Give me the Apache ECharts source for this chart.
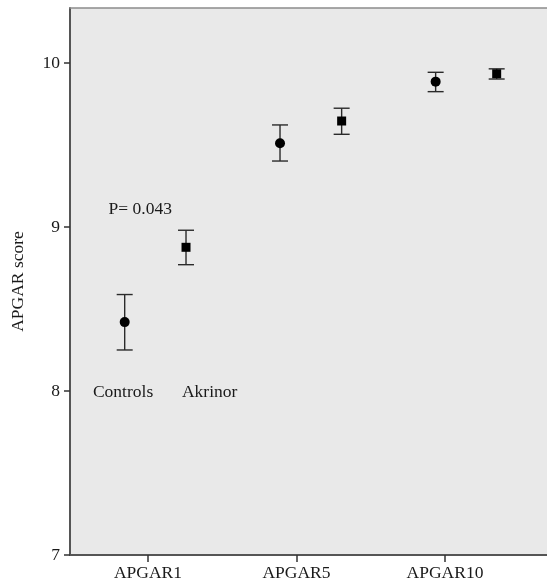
<!DOCTYPE html>
<html>
<head>
<meta charset="utf-8">
<script src="https://cdn.jsdelivr.net/npm/echarts@6/dist/echarts.min.js"></script>
<style>html,body{margin:0;padding:0;background:#fff}#c{width:547px;height:584px}</style>
</head>
<body>
<div id="c"></div>
<script>
var categories = ['APGAR1', 'APGAR5', 'APGAR10'];
var categoryPos = [1, 2, 3];
var controlsX = [0.843, 1.889, 2.937];
var akrinorX = [1.256, 2.304, 3.348];
var controlsMean = [8.42, 9.51, 9.886];
var controlsLow = [8.25, 9.402, 9.825];
var controlsHigh = [8.588, 9.622, 9.943];
var akrinorMean = [8.876, 9.646, 9.934];
var akrinorLow = [8.77, 9.565, 9.902];
var akrinorHigh = [8.98, 9.724, 9.964];
var annotations = [
  {text: 'P= 0.043', x: 0.948, y: 9.104},
  {text: 'Controls', x: 0.832, y: 7.994},
  {text: 'Akrinor', x: 1.415, y: 7.994}
];
var yTicks = [7, 8, 9, 10];

var FONT = 'Liberation Serif';
var FS = 17.5;
var XMIN = 1 - 78 / 148.5;
var XMAX = XMIN + 477 / 148.5;

function errData(xs, lo, hi) {
  return xs.map(function (x, i) { return [x, lo[i], hi[i]]; });
}
function renderErr(params, api) {
  var x = api.value(0);
  var p1 = api.coord([x, api.value(1)]);
  var p2 = api.coord([x, api.value(2)]);
  var hw = 8;
  var st = {stroke: '#2a2a2a', lineWidth: 1.4};
  return {
    type: 'group',
    children: [
      {type: 'line', shape: {x1: p1[0], y1: p1[1], x2: p2[0], y2: p2[1]}, style: st},
      {type: 'line', shape: {x1: p1[0] - hw, y1: p1[1], x2: p1[0] + hw, y2: p1[1]}, style: st},
      {type: 'line', shape: {x1: p2[0] - hw, y1: p2[1], x2: p2[0] + hw, y2: p2[1]}, style: st}
    ]
  };
}

var chart = echarts.init(document.getElementById('c'));
chart.setOption({
  animation: false,
  grid: {
    left: 70, right: 0, top: 8, bottom: 29,
    show: true, backgroundColor: '#e9e9e9', borderWidth: 0
  },
  xAxis: [{
    type: 'value',
    min: XMIN, max: XMAX,
    splitLine: {show: false},
    axisLine: {show: true, onZero: false, lineStyle: {color: '#555', width: 2}},
    axisTick: {show: true, customValues: categoryPos, length: 7, lineStyle: {color: '#333', width: 1.5}},
    axisLabel: {
      customValues: categoryPos,
      margin: 9,
      fontFamily: FONT, fontSize: FS, color: '#1a1a1a',
      formatter: function (v) { return categories[Math.round(v) - 1] || ''; }
    }
  }, {
    type: 'value', position: 'top',
    min: XMIN, max: XMAX,
    splitLine: {show: false},
    axisLine: {show: true, onZero: false, lineStyle: {color: '#8c8c8c', width: 1.5}},
    axisTick: {show: false},
    axisLabel: {show: false}
  }],
  yAxis: {
    type: 'value',
    min: 7, max: 10.335, interval: 1,
    name: 'APGAR score', nameLocation: 'middle', nameGap: 43, nameRotate: 90,
    nameTextStyle: {fontFamily: FONT, fontSize: FS, color: '#1a1a1a'},
    splitLine: {show: false},
    axisLine: {show: true, lineStyle: {color: '#555', width: 2}},
    axisTick: {show: true, customValues: yTicks, length: 6, lineStyle: {color: '#333', width: 1.5}},
    axisLabel: {
      customValues: yTicks,
      margin: 10, fontFamily: FONT, fontSize: FS, color: '#1a1a1a'
    }
  },
  series: [
    {type: 'custom', renderItem: renderErr, data: errData(controlsX, controlsLow, controlsHigh), z: 2},
    {type: 'custom', renderItem: renderErr, data: errData(akrinorX, akrinorLow, akrinorHigh), z: 2},
    {
      type: 'scatter', symbol: 'circle', symbolSize: 10, z: 3,
      itemStyle: {color: '#000', opacity: 1},
      data: controlsX.map(function (x, i) { return [x, controlsMean[i]]; })
    },
    {
      type: 'scatter', symbol: 'rect', symbolSize: 9, z: 3,
      itemStyle: {color: '#000', opacity: 1},
      data: akrinorX.map(function (x, i) { return [x, akrinorMean[i]]; })
    },
    {
      type: 'scatter', symbolSize: 0, silent: true,
      itemStyle: {opacity: 1},
      data: annotations.map(function (a) { return {value: [a.x, a.y], name: a.text}; }),
      label: {
        show: true, position: 'inside',
        formatter: function (p) { return p.name; },
        fontFamily: FONT, fontSize: FS, color: '#1a1a1a'
      }
    }
  ]
});
</script>
</body>
</html>
